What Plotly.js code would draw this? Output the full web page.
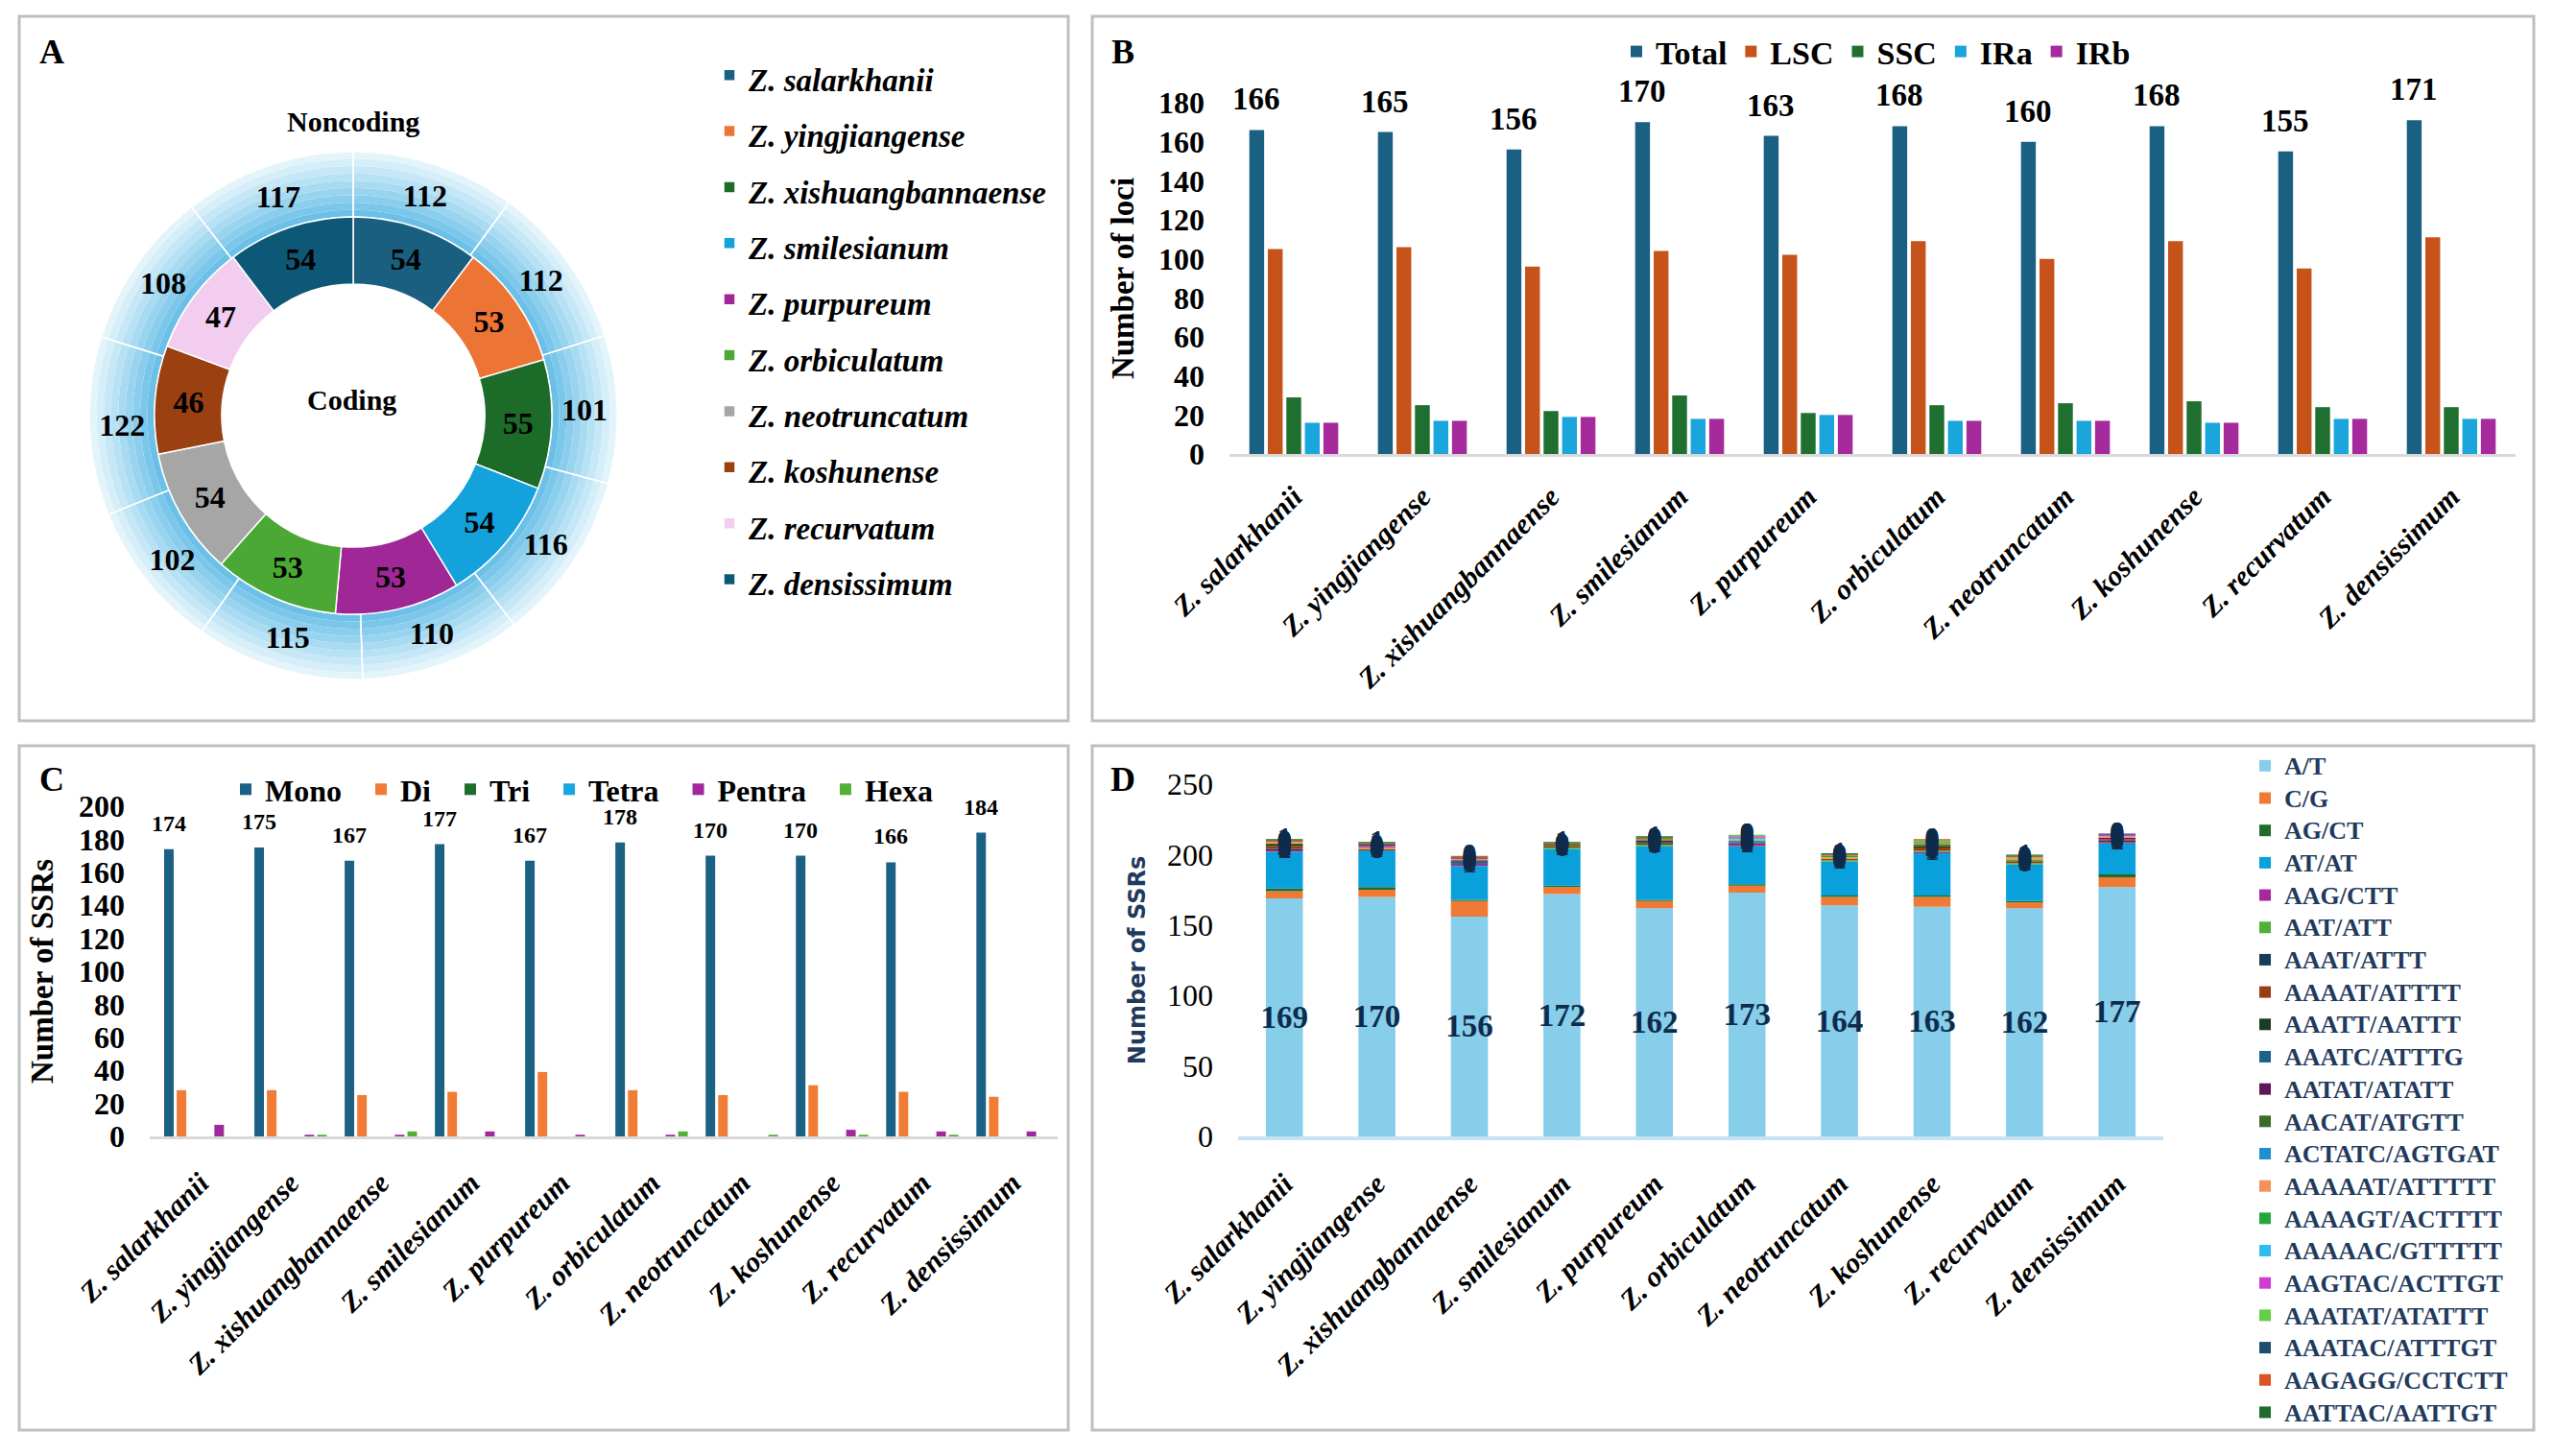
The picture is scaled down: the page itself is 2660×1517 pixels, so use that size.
<!DOCTYPE html>
<html><head><meta charset="utf-8">
<script src="https://cdn.plot.ly/plotly-3.0.1.min.js"></script>
<style>html,body{margin:0;padding:0;background:#fff}</style>
</head><body><div id="chart" style="width:2660px;height:1517px"></div>
<script>
const W = 2660, H = 1517;
const serif = 'Liberation Serif, Times New Roman, serif';

// ---------- shared categories ----------
const species = ['Z. salarkhanii','Z. yingjiangense','Z. xishuangbannaense','Z. smilesianum','Z. purpureum','Z. orbiculatum','Z. neotruncatum','Z. koshunense','Z. recurvatum','Z. densissimum'];

// ---------- Panel A ----------
const codingCounts = [54,53,55,54,53,53,54,46,47,54];
const noncodingCounts = [112,112,101,116,110,115,102,122,108,117];
const speciesColors = ['#1b5f80','#ec7434','#1c6b28','#13a2db','#a02896','#4ba834','#a6a6a6','#9b4011','#f3cdef','#0e5877'];

// ---------- Panel B ----------
const locTotal = [166,165,156,170,163,168,160,168,155,171];
const locLSC   = [105,106,96,104,102,109,100,109,95,111];
const locSSC   = [29,25,22,30,21,25,26,27,24,24];
const locIRa   = [16,17,19,18,20,17,17,16,18,18];
const locIRb   = [16,17,19,18,20,17,17,16,18,18];
const locNames = ['Total','LSC','SSC','IRa','IRb'];
const locColors = ['#1a6083','#c5531a','#1f7030','#1aa6dd','#a52a9c'];

// ---------- Panel C ----------
const typeMono   = [174,175,167,177,167,178,170,170,166,184];
const typeDi     = [28,28,25,27,39,28,25,31,27,24];
const typeTri    = [0,0,0,0,0,0,0,0,0,0];
const typeTetra  = [0,0,0,0,0,0,0,0,0,0];
const typePentra = [7,1,1,3,1,1,0,4,3,3];
const typeHexa   = [0,1,3,0,0,3,1,1,1,0];
const typeNames  = ['Mono','Di','Tri','Tetra','Pentra','Hexa'];
const typeColors = ['#1a6184','#f07c36','#1c6f2b','#1aa5de','#a0289c','#52b035'];

// ---------- Panel D ----------
const motifNames = ['A/T','C/G','AG/CT','AT/AT','AAG/CTT','AAT/ATT','AAAT/ATTT','AAAAT/ATTTT','AAATT/AATTT','AAATC/ATTTG','AATAT/ATATT','AACAT/ATGTT','ACTATC/AGTGAT','AAAAAT/ATTTTT','AAAAGT/ACTTTT','AAAAAC/GTTTTT','AAGTAC/ACTTGT','AAATAT/ATATTT','AAATAC/ATTTGT','AAGAGG/CCTCTT','AATTAC/AATTGT'];
const mAT     = [169,170,156,172,162,173,164,163,162,177];
const mCG     = [5,5,11,5,5,5,6,7,4,7];
const mAGCT   = [2,2,1,1,1,1,1,1,1,2];
const mATAT   = [26,26,24,26,38,27,24,30,26,22];
const mAAG    = [1,0,1,0,0,1,0,1,0,1];
const mAAT    = [0,0,0,1,1,0,1,1,1,0];
const mAAAT   = [1,0,1,0,0,0,0,0,0,1];
const mAAAAT  = [2,1,0,1,1,1,1,2,1,1];
const mAAATT  = [1,0,0,0,1,0,0,1,0,0];
const mAAATC  = [0,0,1,0,0,1,0,0,0,0];
const mAATAT  = [0,0,1,0,1,0,0,0,0,1];
const mAACAT  = [1,0,0,1,0,0,0,1,1,0];
const mACTATC = [0,0,0,0,0,1,0,0,0,0];
const mAAAAAT = [1,1,1,0,0,1,1,1,1,1];
const mAAAAGT = [0,0,0,0,1,0,1,1,0,0];
const mAAAAAC = [0,0,0,0,0,1,0,0,0,0];
const mAAGTAC = [0,1,0,0,0,1,0,0,0,1];
const mAAATAT = [0,0,0,0,0,1,0,1,1,0];
const mAAATAC = [0,1,1,0,0,0,0,0,0,1];
const mAAGAGG = [1,1,1,1,1,0,1,1,1,0];
const mAATTAC = [1,1,0,1,1,0,1,0,1,0];
const motifColors = ['#87ceeb','#ef7a35','#1e6e2a','#0aa0dc','#a7279f','#4fb03a','#173d55','#9b3d14','#1a3d1f','#1b6487','#5e1858','#3a6e28','#1e8fd0','#f39159','#22a83a','#2dbdee','#d13bd1','#62cf45','#1b4f6d','#d9541e','#1f6b2d'];

// ---------- helpers ----------
const px = x => x / W;
const py = y => 1 - y / H;
const cx = 368, cy = 433;
const dom = r => ({x: [px(cx - r), px(cx + r)], y: [py(cy + r), py(cy - r)]});
const sized = (s, size) => '<span style="font-size:' + size + 'px">' + s + '</span>';
const mix = (a, b, t) => {
  const pa = [1,3,5].map(i => parseInt(a.substr(i, 2), 16)), pb = [1,3,5].map(i => parseInt(b.substr(i, 2), 16));
  return 'rgb(' + pa.map((v, i) => Math.round(v + (pb[i] - v) * t)).join(',') + ')';
};

const traces = [];
const boldSerif = (size, color) => ({family: serif, size: size, color: color || '#000', weight: 'bold'});

// ---- A: noncoding ring drawn as gradient bands ----
const rIn = 137, rMid = 207, rOut = 275;
const nBands = 9;
for (let k = 0; k < nBands; k++) {
  const r0 = rMid + (rOut - rMid) * k / nBands;
  const r1 = rMid + (rOut - rMid) * (k + 1) / nBands;
  const c = mix('#6cc0e8', '#e4f4fb', k / (nBands - 1));
  traces.push({type: 'pie', values: noncodingCounts, labels: species, sort: false, direction: 'clockwise', rotation: 0,
    hole: r0 / r1, domain: dom(r1), marker: {colors: species.map(() => c), line: {width: 0}},
    textinfo: 'none', showlegend: false, hoverinfo: 'skip'});
}
traces.push({type: 'pie', values: noncodingCounts, labels: species, sort: false, direction: 'clockwise', rotation: 0,
  hole: rMid / rOut, domain: dom(rOut), marker: {colors: species.map(() => 'rgba(0,0,0,0)'), line: {color: '#ffffff', width: 1.5}},
  textinfo: 'value', textposition: 'inside', insidetextorientation: 'horizontal', textfont: boldSerif(32),
  showlegend: false, hoverinfo: 'label+value'});
traces.push({type: 'pie', values: codingCounts, labels: species.map(s => sized(s, 33)),
  sort: false, direction: 'clockwise', rotation: 0,
  hole: rIn / rMid, domain: dom(rMid), marker: {colors: speciesColors, line: {color: '#ffffff', width: 1.5}},
  textinfo: 'value', textposition: 'inside', insidetextorientation: 'horizontal', textfont: boldSerif(32),
  legend: 'legend', showlegend: true, hoverinfo: 'label+value'});

// ---- B: grouped bars ----
const bargapB = 0.28;
const slotB = (1 - bargapB) / 5;
[locTotal, locLSC, locSSC, locIRa, locIRb].forEach((vals, j) => {
  traces.push({type: 'bar', x: species, y: vals, name: locNames[j], marker: {color: locColors[j]},
    xaxis: 'x', yaxis: 'y', legend: 'legend2', cliponaxis: false});
});
const offTotalB = -(1 - bargapB) / 2 + slotB / 2;

// ---- C: grouped bars with explicit widths ----
const groupC = 0.835, slotC = groupC / 6, widthC = slotC * 0.76;
[typeMono, typeDi, typeTri, typeTetra, typePentra, typeHexa].forEach((vals, j) => {
  traces.push({type: 'bar', x: species, y: vals, name: typeNames[j] + '\u00a0\u00a0', marker: {color: typeColors[j]},
    width: widthC, offset: -groupC / 2 + j * slotC + (slotC - widthC) / 2,
    xaxis: 'x2', yaxis: 'y2', legend: 'legend3', cliponaxis: false});
});
const offMonoC = -groupC / 2 + (slotC - widthC) / 2 + widthC / 2;

// ---- D: stacked bars via base ----
const motifValues = [mAT,mCG,mAGCT,mATAT,mAAG,mAAT,mAAAT,mAAAAT,mAAATT,mAAATC,mAATAT,mAACAT,mACTATC,mAAAAAT,mAAAAGT,mAAAAAC,mAAGTAC,mAAATAT,mAAATAC,mAAGAGG,mAATTAC];
let cum = species.map(() => 0);
const blobX = [], blobY = [], blobT = [];
motifValues.forEach((vals, k) => {
  const t = {type: 'bar', x: species, y: vals, base: cum.slice(), name: sized(motifNames[k], 26), marker: {color: motifColors[k]},
    width: 0.4, offsetgroup: 'D', xaxis: 'x3', yaxis: 'y3', legend: 'legend4', cliponaxis: false};
  if (k === 0) {
    t.text = vals.map(String); t.textposition = 'inside'; t.insidetextanchor = 'middle';
    t.textangle = 0; t.constraintext = 'none'; t.textfont = boldSerif(33, '#0f2b4b');
  }
  if (k >= 4) {
    vals.forEach((v, i) => { blobX.push(species[i]); blobY.push(cum[i] + v / 2); blobT.push(String(v)); });
  }
  traces.push(t);
  cum = cum.map((c, i) => c + vals[i]);
});
traces.push({type: 'scatter', mode: 'text', x: blobX, y: blobY, text: blobT, textposition: 'middle center',
  textfont: boldSerif(30, '#0f2b4b'), xaxis: 'x3', yaxis: 'y3', showlegend: false, cliponaxis: false, hoverinfo: 'skip'});

// ---------- annotations ----------
const annotations = [];
locTotal.forEach((v, i) => annotations.push({xref: 'x', yref: 'y', x: i + offTotalB, y: v, text: String(v),
  showarrow: false, yanchor: 'bottom', yshift: 12, font: boldSerif(33)}));
typeMono.forEach((v, i) => annotations.push({xref: 'x2', yref: 'y2', x: i + offMonoC, y: v, text: String(v),
  showarrow: false, yanchor: 'bottom', yshift: 12, font: boldSerif(24)}));
const paperText = (x, y, text, size) => ({xref: 'paper', yref: 'paper', x: px(x), y: py(y), text: text,
  showarrow: false, xanchor: 'center', yanchor: 'middle', font: boldSerif(size)});
annotations.push(paperText(54, 54, 'A', 36));
annotations.push(paperText(1170, 54, 'B', 36));
annotations.push(paperText(54, 812, 'C', 36));
annotations.push(paperText(1170, 812, 'D', 36));
annotations.push(paperText(368, 127, 'Noncoding', 30));
annotations.push(paperText(366, 417, 'Coding', 30));

// ---------- panel borders ----------
const border = (x0, y0, x1, y1) => ({type: 'rect', xref: 'paper', yref: 'paper', x0: px(x0), x1: px(x1), y0: py(y1), y1: py(y0),
  line: {color: '#bfbfbf', width: 3}, fillcolor: 'rgba(0,0,0,0)'});
const shapes = [border(20, 17, 1113, 751), border(1138, 17, 2640, 751), border(20, 777, 1113, 1490), border(1138, 777, 2640, 1490)];

const xTickFont = {family: serif, size: 30, color: '#000', weight: 'bold', style: 'italic'};
const yTickFont = boldSerif(32);

const layout = {
  width: W, height: H, margin: {l: 0, r: 0, t: 0, b: 0, autoexpand: false}, paper_bgcolor: '#fff', plot_bgcolor: 'rgba(0,0,0,0)',
  font: {family: serif, color: '#000'}, hovermode: false,
  barmode: 'group', bargap: bargapB, bargroupgap: 0.2,
  xaxis: {domain: [px(1281), px(2621)], anchor: 'y', type: 'category', showline: true, linecolor: '#d9d9d9', linewidth: 3,
    ticks: '', tickangle: -45, tickfont: xTickFont, ticklabelstandoff: 12, automargin: false, showgrid: false},
  yaxis: {domain: [py(473), py(107)], anchor: 'x', range: [0, 180], dtick: 20, showgrid: false, zeroline: false, showline: false,
    ticks: '', tickfont: yTickFont, ticklabelstandoff: 25, automargin: false,
    title: {text: 'Number of loci', font: boldSerif(33), standoff: 15}},
  xaxis2: {domain: [px(156), px(1102)], anchor: 'y2', type: 'category', showline: true, linecolor: '#d9d9d9', linewidth: 3,
    ticks: '', tickangle: -45, tickfont: xTickFont, ticklabelstandoff: 16, automargin: false, showgrid: false},
  yaxis2: {domain: [py(1184), py(840)], anchor: 'x2', range: [0, 200], dtick: 20, showgrid: false, zeroline: false, showline: false,
    ticks: '', tickfont: yTickFont, ticklabelstandoff: 25, automargin: false,
    title: {text: 'Number of SSRs', font: boldSerif(33), standoff: 16}},
  xaxis3: {domain: [px(1290), px(2254)], anchor: 'y3', type: 'category', showline: true, linecolor: '#c6e2f5', linewidth: 4,
    ticks: '', tickangle: -45, tickfont: xTickFont, ticklabelstandoff: 16, automargin: false, showgrid: false},
  yaxis3: {domain: [py(1184), py(817)], anchor: 'x3', range: [0, 250], dtick: 50, showgrid: false, zeroline: false, showline: false,
    ticks: '', tickfont: {family: serif, size: 32, color: '#000'}, ticklabelstandoff: 25, automargin: false,
    title: {text: 'Number of SSRs', font: {family: 'DejaVu Sans', size: 24, color: '#1f3a5c', weight: 'bold'}, standoff: 15}},
  legend: {x: px(740), y: py(44), xanchor: 'left', yanchor: 'top', orientation: 'v', bgcolor: 'rgba(0,0,0,0)',
    font: {family: serif, size: 42.6, color: '#000', weight: 'bold', style: 'italic'}},
  legend2: {x: px(1685), y: py(25), xanchor: 'left', yanchor: 'top', orientation: 'h', bgcolor: 'rgba(0,0,0,0)',
    font: boldSerif(34)},
  legend3: {x: px(236), y: py(795), xanchor: 'left', yanchor: 'top', orientation: 'h', bgcolor: 'rgba(0,0,0,0)',
    font: boldSerif(32)},
  legend4: {x: px(2340), y: py(776), xanchor: 'left', yanchor: 'top', orientation: 'v', bgcolor: 'rgba(0,0,0,0)',
    traceorder: 'normal', font: boldSerif(23.6, '#1f3a5c')},
  annotations: annotations, shapes: shapes
};

Plotly.newPlot('chart', traces, layout, {displayModeBar: false, staticPlot: true});
</script></body></html>
